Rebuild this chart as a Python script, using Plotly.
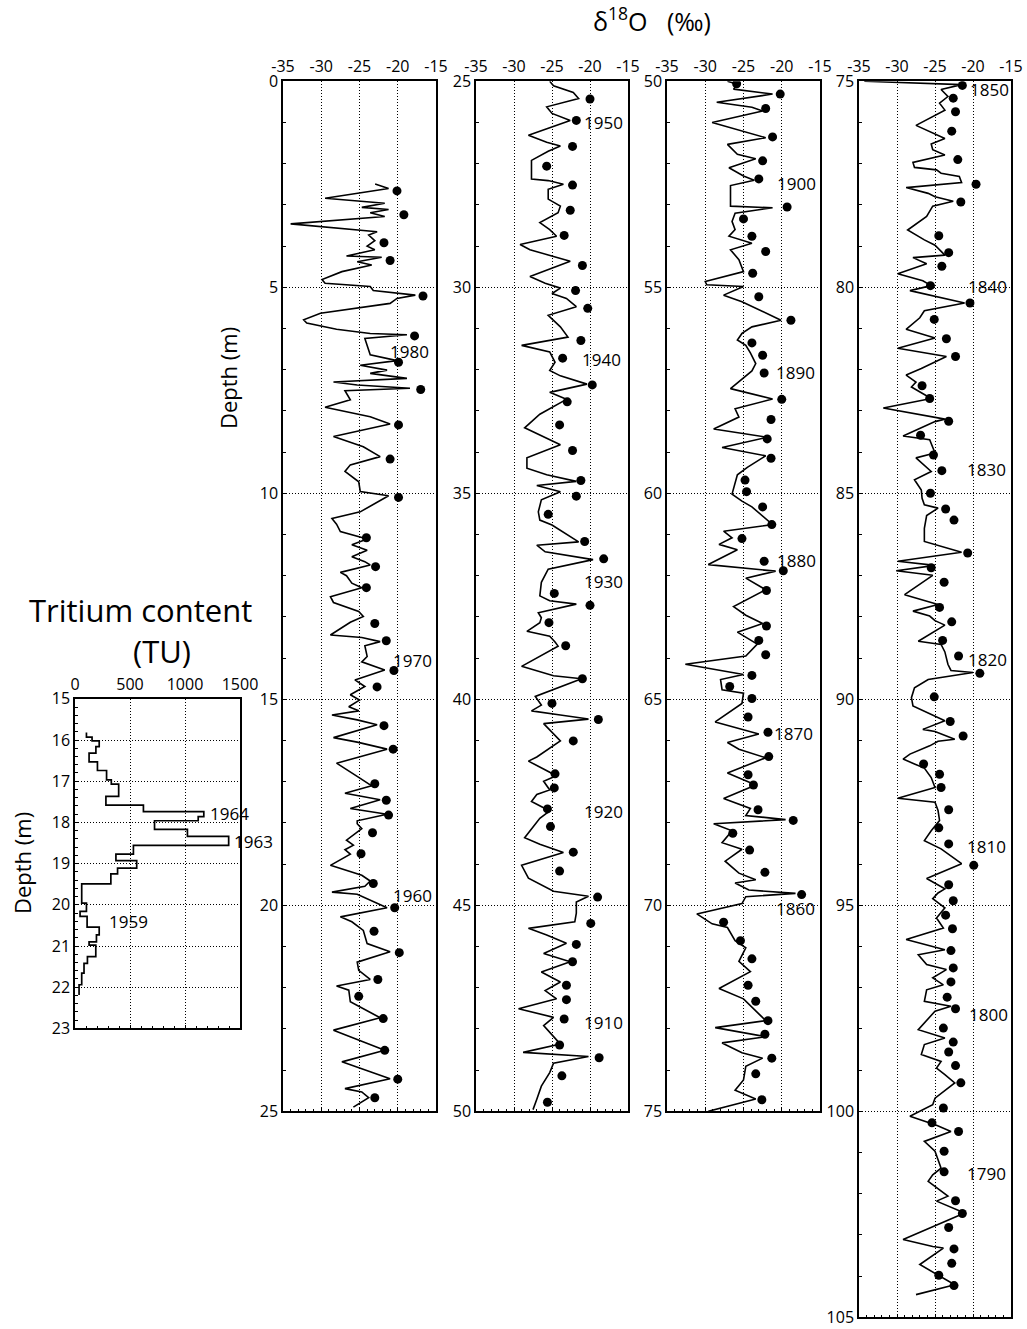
import plotly.graph_objects as go

W, H = 1027, 1329
FONT = "Open Sans"

# ---------------- δ18O profile, 0-25 m ----------------
p1_depth = [2.49, 2.60, 2.84, 2.96, 3.06, 3.11, 3.19, 3.28, 3.46, 3.65,
            3.73, 3.87, 4.00, 4.09, 4.24, 4.27, 4.38, 4.46, 4.62, 4.81,
            4.90, 4.98, 5.08, 5.19, 5.27, 5.39, 5.63, 5.79, 5.87, 6.02,
            6.12, 6.15, 6.24, 6.64, 6.78, 6.89, 7.01, 7.09, 7.21, 7.30,
            7.37, 7.45, 7.51, 7.73, 7.91, 8.14, 8.32, 8.62, 8.87, 9.11,
            9.31, 9.47, 9.72, 9.96, 10.06,
            10.45, 10.61, 10.75, 10.93, 11.01, 11.11, 11.25, 11.38, 11.54, 11.66,
            11.74, 11.92, 12.00, 12.18, 12.29, 12.51, 12.65, 12.87, 12.99, 13.13,
            13.44, 13.50, 13.60, 13.70, 13.96, 14.09, 14.29, 14.53, 14.69, 14.89,
            15.02, 15.18, 15.28, 15.38, 15.50, 15.62, 15.93, 16.04, 16.21, 16.55,
            16.92, 17.10, 17.28, 17.44, 17.65, 17.79, 17.95,
            18.02, 18.14, 18.42, 18.54, 18.65, 18.76, 19.03, 19.27, 19.41, 19.54,
            19.68, 19.73, 20.06, 20.28, 20.40, 20.61, 20.93, 21.13, 21.38, 21.58,
            21.80, 21.96, 22.06, 22.34, 22.73, 23.03, 23.37, 23.52, 23.80, 24.21,
            24.45, 24.53, 24.67, 24.90]
p1_d18o = [-22.96, -21.2, -29.5, -21.7, -24.7, -21.2, -23.6, -21.7, -34.0, -22.7,
           -23.8, -23.0, -24.0, -23.0, -26.7, -22.1, -25.3, -23.4, -27.3, -29.9,
           -29.5, -23.6, -23.2, -17.7, -20.1, -21.0, -30.1, -32.3, -31.9, -28.0,
           -23.6, -18.8, -24.3, -23.6, -20.1, -24.9, -21.4, -23.6, -18.8, -28.4,
           -25.3, -18.4, -26.9, -26.2, -29.5, -23.6, -21.0, -28.4, -24.5, -22.3,
           -26.2, -26.9, -25.1, -24.9, -21.2,
           -24.9, -28.6, -28.0, -27.5, -25.8, -24.0, -26.0, -24.0, -26.0, -24.3,
           -23.6, -27.5, -26.7, -26.0, -24.7, -28.8, -28.4, -25.1, -24.5, -26.2,
           -28.8, -24.7, -22.3, -24.3, -24.0, -24.7, -21.7, -25.6, -24.3, -26.2,
           -25.0, -26.4, -25.1, -28.6, -25.3, -22.7, -28.4, -25.3, -21.4, -28.0,
           -24.9, -23.4, -26.9, -22.3, -26.2, -21.4, -25.3,
           -25.3, -24.7, -26.7, -25.8, -26.9, -26.2, -28.8, -24.7, -23.6, -24.3,
           -28.6, -25.3, -21.4, -27.5, -26.0, -24.5, -24.0, -21.0, -25.3, -25.1,
           -23.6, -28.0, -26.4, -26.2, -22.3, -28.4, -23.6, -21.7, -27.3, -21.0,
           -26.9, -24.7, -23.8, -25.8]
p1_peak_depth = [2.66, 3.24, 3.92, 4.35, 5.21, 6.18, 6.82, 7.48, 8.34, 9.17,
                 10.10, 11.08, 11.78, 12.29, 13.16, 13.58, 14.30, 14.70, 15.64, 16.21,
                 17.05, 17.45, 17.81, 18.24, 18.75, 19.47, 20.06, 20.63, 21.15, 21.80,
                 22.21, 22.75, 23.52, 24.22, 24.67]
p1_peak_d18o = [-20.1, -19.2, -21.8, -21.0, -16.7, -17.8, -19.9, -17.0, -19.9, -21.0,
                -19.9, -24.1, -22.9, -24.1, -23.0, -21.5, -20.5, -22.7, -21.8, -20.6,
                -23.0, -21.5, -21.2, -23.3, -24.8, -23.2, -20.4, -23.1, -19.8, -22.6,
                -25.1, -21.9, -21.7, -20.0, -23.0]

# ---------------- δ18O profile, 25-50 m ----------------
p2_depth = [25.00, 25.11, 25.27, 25.42, 25.62, 25.78, 25.95, 26.31, 26.48, 26.57,
            26.70, 26.92, 27.37, 27.41, 27.50, 27.62, 27.86, 28.03, 28.19, 28.43,
            28.60, 28.76, 28.96, 29.09, 29.25, 29.37, 29.74, 29.90, 30.02, 30.15,
            30.27, 30.47, 30.68, 30.96, 31.21, 31.41, 31.57, 31.82, 32.02, 32.15,
            32.35, 32.55, 32.72, 33.08, 33.41, 33.59, 33.82, 34.14, 34.39, 34.55,
            34.71, 34.81, 34.96, 35.16, 35.45, 35.65, 35.77, 36.18, 36.26, 36.42,
            36.55, 36.61, 36.84, 37.16, 37.49, 37.61,
            37.69, 37.90, 38.02, 38.14,
            38.35, 38.47, 38.61, 38.71, 39.20, 39.43, 39.50, 39.93, 40.14, 40.28,
            40.38, 40.48, 40.59, 40.83, 41.01, 41.40, 41.50, 41.77, 41.87, 41.99,
            42.20, 42.31, 42.48, 42.71, 42.89, 43.36, 43.52, 43.72, 44.03, 44.34,
            44.66, 44.78, 44.92, 45.19, 45.40, 45.56, 45.72, 45.92, 46.17, 46.37,
            46.62, 46.86, 47.07, 47.27, 47.51, 47.72, 47.92, 48.37, 48.57, 48.67,
            48.83, 49.06, 49.39, 49.71, 49.96]
p2_d18o = [-25.3, -24.8, -22.2, -21.5, -25.7, -25.0, -22.6, -28.1, -25.7, -23.9,
           -25.5, -27.7, -27.7, -25.5, -23.5, -25.5, -25.5, -23.9, -24.2, -26.6,
           -25.3, -24.4, -29.2, -27.9, -24.8, -22.6, -27.9, -25.9, -23.9, -25.0,
           -23.1, -21.8, -25.5, -23.9, -22.9, -29.0, -25.3, -24.6, -25.3, -23.9,
           -20.4, -25.3, -23.1, -26.6, -28.6, -26.6, -23.9, -28.3, -28.3, -25.7,
           -21.8, -27.0, -23.9, -26.4, -26.8, -26.6, -25.0, -21.5, -27.0, -25.9,
           -21.8, -19.6, -25.5, -26.4, -26.6, -25.3,
           -21.8, -26.8, -26.4, -26.6,
           -28.3, -25.3, -24.6, -24.2, -29.0, -24.8, -21.1, -27.2, -26.4, -27.7,
           -23.9, -20.2, -26.1, -24.8, -23.9, -27.0, -28.1, -25.3, -24.6, -26.1,
           -25.3, -27.0, -27.7, -25.3, -26.6, -28.6, -26.6, -23.5, -29.0, -28.1,
           -24.8, -20.2, -21.8, -21.8, -22.0, -28.1, -25.7, -23.1, -26.1, -22.6,
           -26.4, -23.9, -25.9, -24.4, -29.4, -24.8, -26.1, -23.9, -28.8, -20.2,
           -24.8, -25.3, -26.4, -27.0, -27.5]
p2_peak_depth = [25.43, 25.95, 26.58, 27.06, 27.52, 28.13, 28.74, 29.47, 30.08, 30.51,
                 31.29, 31.72, 32.37, 32.78, 33.34, 33.96, 34.69, 35.07, 35.51, 36.17,
                 36.59, 37.43, 37.72, 38.14, 38.70, 39.50, 40.10, 40.49, 41.01, 41.81,
                 42.15, 42.66, 43.09, 43.71, 44.17, 44.80, 45.44, 45.95, 46.37, 46.94,
                 47.29, 47.76, 48.39, 48.70, 49.14, 49.78]
p2_peak_d18o = [-20.0, -21.8, -22.3, -25.7, -22.3, -22.6, -23.4, -21.0, -21.9, -20.3,
                -21.2, -23.6, -19.7, -23.0, -24.0, -22.3, -21.2, -21.8, -25.5, -20.7,
                -18.2, -24.7, -20.0, -25.4, -23.2, -21.0, -25.0, -18.9, -22.2, -24.6,
                -24.7, -25.6, -25.2, -22.2, -24.0, -19.0, -19.9, -21.8, -22.3, -23.1,
                -23.1, -23.4, -24.0, -18.8, -23.7, -25.6]

# ---------------- δ18O profile, 50-75 m ----------------
p3_depth = [50.00, 50.07, 50.19, 50.31, 50.51, 50.63, 50.72, 51.00, 51.37, 51.53,
            51.77, 51.88, 52.10, 52.30, 52.40, 52.53, 53.03, 53.07, 53.20, 53.40,
            53.60, 53.76, 53.93, 54.09, 54.33, 54.62, 54.86, 54.94, 54.98, 55.19,
            55.35, 55.80, 55.96, 56.12, 56.28, 56.41, 56.59, 56.85, 57.03, 57.46,
            57.71, 57.95, 58.15, 58.44, 58.64, 58.89, 59.09, 59.37, 59.55, 59.78,
            60.02, 60.19, 60.33, 60.76, 60.92, 61.08, 61.24, 61.37, 61.73, 61.89,
            62.06, 62.34,
            62.75, 62.96, 63.16, 63.37, 63.66, 63.95, 64.15, 64.40,
            64.52, 64.77, 64.85, 65.10, 65.55, 65.84, 66.05, 66.21, 66.42, 66.79,
            66.91, 67.08, 67.41, 67.65, 67.82, 67.92, 68.02, 68.19, 68.48, 68.64,
            68.93, 69.22, 69.38, 69.46, 69.63, 69.71, 69.79, 69.96, 70.21, 70.45,
            70.54, 70.86, 71.03, 71.36, 71.61, 72.02, 72.27, 72.80, 72.97, 73.09,
            73.19, 73.34, 73.58, 73.71, 73.91, 74.24, 74.49, 74.70, 75.00]
p3_d18o = [-27.1, -25.8, -26.3, -21.2, -28.5, -23.9, -22.5, -29.1, -22.1, -27.1,
           -25.8, -23.4, -26.9, -25.0, -23.6, -26.7, -26.7, -21.2, -26.1, -26.5,
           -26.1, -26.9, -23.9, -26.7, -25.6, -25.0, -30.0, -29.8, -25.0, -27.6,
           -25.2, -20.1, -23.9, -25.2, -25.8, -24.7, -24.1, -23.4, -23.9, -26.7,
           -21.2, -26.1, -25.6, -28.9, -21.9, -27.8, -22.1, -24.5, -25.8, -26.1,
           -26.5, -25.2, -23.9, -21.2, -27.6, -26.5, -28.2, -25.8, -29.6, -20.8,
           -24.7, -22.1,
           -26.3, -24.7, -22.5, -25.8, -23.2, -24.7, -32.6, -25.0,
           -28.0, -27.8, -25.0, -25.2, -28.7, -23.0, -27.1, -25.6, -22.1, -27.1,
           -25.6, -23.4, -27.6, -24.1, -24.7, -19.5, -28.9, -26.5, -27.8, -25.2,
           -27.4, -25.6, -23.4, -26.1, -24.3, -18.2, -24.7, -25.2, -31.1, -29.1,
           -27.1, -26.1, -24.7, -25.6, -24.1, -28.2, -25.0, -22.1, -28.7, -25.2,
           -22.1, -27.8, -25.2, -22.5, -24.7, -25.0, -26.1, -23.4, -29.6]
p3_peak_depth = [50.06, 50.31, 50.66, 51.35, 51.93, 52.37, 53.05, 53.34, 53.76, 54.13,
                 54.66, 55.23, 55.80, 56.35, 56.65, 57.08, 57.72, 58.21, 58.68, 59.15,
                 59.68, 59.96, 60.33, 60.76, 61.10, 61.65, 61.88, 62.36,
                 63.22, 63.57, 63.92, 64.42, 64.69, 64.98, 65.43, 65.80, 66.39, 66.83,
                 67.08, 67.68, 67.94, 68.25, 68.66, 69.20, 69.74, 70.41, 70.86, 71.30,
                 71.94, 72.33, 72.80, 73.13, 73.71, 74.09, 74.72]
p3_peak_d18o = [-25.9, -20.2, -22.1, -21.2, -22.5, -23.0, -19.3, -25.0, -23.9, -22.1,
                -23.8, -23.0, -18.8, -23.9, -22.5, -22.3, -20.0, -21.4, -21.9, -21.4,
                -24.8, -24.6, -22.5, -21.3, -25.2, -22.3, -19.8, -22.0,
                -22.0, -23.0, -22.1, -23.9, -26.8, -23.9, -24.4, -21.8, -21.7, -24.4,
                -23.7, -23.1, -18.5, -26.4, -24.2, -22.2, -17.4, -27.6, -25.4, -23.9,
                -24.4, -23.4, -21.8, -22.2, -21.3, -23.4, -22.6]

# ---------------- δ18O profile, 75-105 m ----------------
p4_depth = [75.00, 75.08, 75.20, 75.37, 75.53, 75.70, 76.07, 76.27, 76.39, 76.52,
            76.66, 76.79, 76.97, 77.09, 77.15, 77.23, 77.31, 77.46, 77.58, 77.72,
            77.80, 77.91, 78.03, 78.28, 78.61, 78.85, 78.98, 79.22, 79.28, 79.43,
            79.67, 79.84, 79.96, 80.08, 80.38, 80.57, 80.74, 81.02, 81.23, 81.48,
            81.68, 81.97, 82.13, 82.30, 82.42, 82.70, 82.93, 83.20, 83.26, 83.61,
            83.70, 84.02, 84.14, 84.47, 84.67, 84.92,
            85.12, 85.28, 85.36, 85.54,
            85.85, 86.17, 86.43, 86.65, 86.75, 86.88, 86.99, 87.46, 87.70, 87.86,
            87.98, 88.09, 88.20, 88.59, 88.67, 88.85, 89.15, 89.30, 89.35, 89.52,
            89.72, 89.96, 90.16, 90.52, 90.73, 90.78, 90.97, 91.02, 91.13, 91.33,
            91.45, 91.57, 91.67, 91.90, 92.14, 92.40, 92.50, 92.70, 92.94, 93.19,
            93.43, 93.63, 93.99, 94.35, 94.60,
            94.70, 94.84, 95.06, 95.31, 95.55,
            95.83, 96.08, 96.20, 96.44, 96.56, 96.76, 96.93, 97.05, 97.33, 97.45,
            97.57, 98.02, 98.22, 98.38, 98.62, 98.79, 98.95, 99.11, 99.31, 99.68,
            99.84, 100.12, 100.24, 100.34, 100.49, 100.73, 100.97, 101.38, 101.54, 101.70,
            102.06, 102.18, 102.47, 102.67, 103.11, 103.28, 103.32, 103.72, 104.21, 104.45]
p4_d18o = [-34.3, -21.5, -24.2, -23.3, -24.4, -23.7, -27.5, -25.0, -23.7, -25.5,
           -25.3, -23.7, -27.9, -27.7, -24.8, -24.2, -21.8, -21.5, -28.8, -25.9,
           -25.0, -22.6, -25.3, -26.1, -28.6, -26.4, -25.0, -23.7, -27.9, -26.1,
           -29.9, -26.6, -25.5, -28.3, -21.1, -26.4, -27.0, -28.8, -25.0, -29.9,
           -23.5, -26.8, -28.8, -27.5, -28.1, -25.5, -31.8, -23.7, -25.0, -29.2,
           -25.7, -25.0, -27.5, -25.5, -27.7, -26.8,
           -26.7, -26.4, -24.6, -26.1,
           -26.4, -26.4, -21.5, -29.9, -25.0, -30.1, -25.3, -29.0, -24.6, -27.9,
           -25.7, -25.0, -23.7, -27.2, -24.2, -23.7, -23.3, -22.9, -20.0, -25.9,
           -27.7, -28.1, -27.9, -23.7, -26.6, -25.0, -22.4, -24.6, -25.7, -28.3,
           -29.2, -27.7, -26.4, -25.5, -25.0, -29.9, -25.0, -24.6, -24.4, -25.5,
           -26.4, -24.2, -21.5, -26.1, -23.7,
           -24.6, -25.3, -23.7, -24.8, -23.9,
           -28.8, -23.7, -27.2, -26.1, -23.5, -25.3, -23.9, -26.1, -26.4, -22.9,
           -25.0, -27.2, -23.7, -26.4, -26.8, -24.2, -24.8, -23.7, -22.4, -25.0,
           -25.3, -28.3, -26.4, -24.8, -22.9, -26.4, -25.0, -24.2, -25.3, -25.9,
           -23.3, -24.8, -21.1, -23.7, -29.2, -25.3, -23.9, -27.0, -22.4, -27.5]
p4_peak_depth = [75.10, 75.41, 75.74, 76.21, 76.90, 77.50, 77.93, 78.75, 79.16, 79.49,
                 79.96, 80.38, 80.78, 81.25, 81.68, 82.39, 82.70, 83.25, 83.59, 84.07,
                 84.45, 85.00,
                 85.38, 85.65, 86.45, 86.81, 87.16, 87.77, 88.12, 88.57, 88.95, 89.37,
                 89.94, 90.54, 90.89, 91.57, 91.82, 92.14, 92.68, 93.12, 93.51, 94.03,
                 94.50,
                 94.89, 95.24, 95.57, 96.10, 96.52, 96.86, 97.23, 97.51, 97.98, 98.32,
                 98.56, 98.89, 99.31, 99.92, 100.28, 100.49, 100.97, 101.47, 102.17, 102.48,
                 102.82, 103.34, 103.69, 103.98, 104.23]
p4_peak_d18o = [-21.4, -22.6, -22.3, -22.8, -22.0, -19.6, -21.6, -24.5, -23.2, -24.1,
                -25.6, -20.4, -25.1, -23.5, -22.3, -26.7, -25.7, -23.2, -26.9, -25.2,
                -24.1, -25.6,
                -23.6, -22.5, -20.7, -25.5, -23.8, -24.4, -22.8, -24.0, -21.9, -19.1,
                -25.1, -23.0, -21.3, -26.5, -24.4, -24.2, -23.2, -24.5, -23.2, -19.9,
                -23.2,
                -22.6, -23.6, -22.7, -22.9, -22.6, -22.9, -23.4, -22.3, -23.9, -22.6,
                -23.2, -22.3, -21.6, -23.9, -25.4, -21.9, -23.8, -23.8, -22.3, -21.4,
                -23.2, -22.5, -22.8, -24.5, -22.5]

# ---------------- tritium profile (step bins) ----------------
tritium_depth_edges = [15.82, 15.93, 16.02, 16.16, 16.32, 16.53, 16.74, 16.97, 17.07, 17.37,
                       17.58, 17.74, 17.86, 17.96, 18.17, 18.34, 18.56, 18.77, 18.93, 19.11,
                       19.25, 19.49, 19.96, 20.16, 20.28, 20.54, 20.73, 20.90, 20.98, 21.26,
                       21.42, 21.66, 21.94, 22.19]
tritium_tu = [104, 155, 220, 190, 128, 204, 287, 330, 397, 281,
              622, 1171, 1120, 723, 1022, 1397, 531, 372, 561, 387,
              326, 61, 104, 46, 110, 220, 195, 128, 189, 113,
              82, 61, 37]

# year markers: (text, x, depth)
p1_years = [("1980", -21.3, 6.56), ("1970", -20.9, 14.05), ("1960", -20.9, 19.75)]
p2_years = [("1950", -21.0, 26.0), ("1940", -21.3, 31.75), ("1930", -21.1, 37.15),
            ("1920", -21.0, 42.73), ("1910", -21.0, 47.85)]
p3_years = [("1900", -20.9, 52.48), ("1890", -21.0, 57.07), ("1880", -20.9, 61.62),
            ("1870", -21.3, 65.84), ("1860", -21.0, 70.07)]
p4_years = [("1850", -20.7, 75.2), ("1840", -20.9, 79.98), ("1830", -21.0, 84.43),
            ("1820", -20.9, 89.04), ("1810", -21.0, 93.58), ("1800", -20.8, 97.64),
            ("1790", -21.0, 101.5)]
tritium_years = [("1964", 1209, 17.78), ("1963", 1424, 18.47), ("1959", 294, 20.41)]

d18o_ticks = [-35, -30, -25, -20, -15]
tritium_ticks = [0, 500, 1000, 1500]

# ---------------- layout geometry (pixels) ----------------
def px_dom_x(a, b):
    return [a / W, b / W]


def px_dom_y(top, bottom):
    return [1 - bottom / H, 1 - top / H]


panels = [
    dict(n=1, xr=[0, 1500], yr=[23, 15], xs=(75, 240), ys=(698.8, 1028.4),
         xd=500, xm=100, yd=1, ym=0.2, ticks=tritium_ticks),
    dict(n=2, xr=[-35, -15], yr=[25, 0], xs=(283, 436), ys=(81.3, 1111.3),
         xd=5, xm=1, yd=5, ym=1, ticks=d18o_ticks),
    dict(n=3, xr=[-35, -15], yr=[50, 25], xs=(476, 628), ys=(81.3, 1111.3),
         xd=5, xm=1, yd=5, ym=1, ticks=d18o_ticks),
    dict(n=4, xr=[-35, -15], yr=[75, 50], xs=(667, 820), ys=(81.3, 1111.3),
         xd=5, xm=1, yd=5, ym=1, ticks=d18o_ticks),
    dict(n=5, xr=[-35, -15], yr=[105, 75], xs=(859, 1011), ys=(81.3, 1317.3),
         xd=5, xm=1, yd=5, ym=1, ticks=d18o_ticks),
]

tick_font = dict(family=FONT, size=16, color="black")
GRID_DASH = "1px,2px"
layout = dict(width=W, height=H, margin=dict(l=0, r=0, t=0, b=0, autoexpand=False),
              paper_bgcolor="white", plot_bgcolor="white", showlegend=False)

for p in panels:
    n = p["n"]
    sx = "" if n == 1 else str(n)
    top_id = n + 5
    layout["xaxis" + sx] = dict(
        domain=px_dom_x(*p["xs"]), range=p["xr"], anchor="y" + sx, side="bottom",
        automargin=False, showticklabels=False,
        ticks="inside", ticklen=4, tickcolor="black", dtick=p["xd"], tick0=0,
        minor=dict(dtick=p["xm"], ticks="inside", ticklen=3, tickcolor="black", showgrid=False),
        showline=True, mirror=True, linecolor="black", linewidth=1.5,
        showgrid=True, gridcolor="black", griddash=GRID_DASH, gridwidth=1, zeroline=False,
    )
    layout["xaxis" + str(top_id)] = dict(
        overlaying="x" + sx, anchor="y" + sx, side="top", range=p["xr"], automargin=False,
        tickmode="array", tickvals=p["ticks"], ticktext=[str(t) for t in p["ticks"]],
        ticks="", ticklabelstandoff=5, showline=False, showgrid=False, zeroline=False,
        tickfont=tick_font,
    )
    layout["yaxis" + sx] = dict(
        domain=px_dom_y(*p["ys"]), range=p["yr"], anchor="x" + sx, automargin=False,
        dtick=p["yd"], tick0=0, ticks="inside", ticklen=4, tickcolor="black",
        minor=dict(dtick=p["ym"], ticks="inside", ticklen=3, tickcolor="black", showgrid=False),
        showline=True, mirror=True, linecolor="black", linewidth=1.5,
        showgrid=True, gridcolor="black", griddash=GRID_DASH, gridwidth=1, zeroline=False,
        tickfont=tick_font,
    )

fig = go.Figure(layout=layout)

line_style = dict(color="black", width=1.6)
dot_style = dict(color="black", size=9)

# tritium step profile built from bin edges
tr_x, tr_y = [], []
for i, tu in enumerate(tritium_tu):
    tr_x += [tu, tu]
    tr_y += [tritium_depth_edges[i], tritium_depth_edges[i + 1]]
fig.add_trace(go.Scatter(x=tr_x, y=tr_y, mode="lines", line=dict(color="black", width=1.7),
                         xaxis="x", yaxis="y", hoverinfo="skip"))
fig.add_trace(go.Scatter(x=[None], y=[None], mode="lines", xaxis="x6", yaxis="y",
                         hoverinfo="skip"))

series = [
    (2, p1_depth, p1_d18o, p1_peak_depth, p1_peak_d18o, p1_years),
    (3, p2_depth, p2_d18o, p2_peak_depth, p2_peak_d18o, p2_years),
    (4, p3_depth, p3_d18o, p3_peak_depth, p3_peak_d18o, p3_years),
    (5, p4_depth, p4_d18o, p4_peak_depth, p4_peak_d18o, p4_years),
]

year_font = dict(family=FONT, size=17, color="black")
annotations = []
for n, dep, val, pdep, pval, years in series:
    fig.add_trace(go.Scatter(x=val, y=dep, mode="lines", line=line_style,
                             xaxis="x%d" % n, yaxis="y%d" % n, hoverinfo="skip"))
    fig.add_trace(go.Scatter(x=pval, y=pdep, mode="markers", marker=dot_style,
                             xaxis="x%d" % (n + 5), yaxis="y%d" % n, hoverinfo="skip"))
    for txt, x, y in years:
        annotations.append(dict(text=txt, x=x, y=y, xref="x%d" % n, yref="y%d" % n,
                                xanchor="left", yanchor="middle", showarrow=False,
                                font=year_font))

for txt, x, y in tritium_years:
    annotations.append(dict(text=txt, x=x, y=y, xref="x", yref="y",
                            xanchor="left", yanchor="middle", showarrow=False,
                            font=year_font))

# titles
annotations += [
    dict(text="δ<sup>18</sup>O   (‰)", x=652 / W, y=1 - 20 / H, xref="paper", yref="paper",
         xanchor="center", yanchor="middle", showarrow=False,
         font=dict(family=FONT, size=25, color="black")),
    dict(text="Tritium content", x=140 / W, y=1 - 610 / H, xref="paper", yref="paper",
         xanchor="center", yanchor="middle", showarrow=False,
         font=dict(family=FONT, size=31, color="black")),
    dict(text="(TU)", x=162 / W, y=1 - 651 / H, xref="paper", yref="paper",
         xanchor="center", yanchor="middle", showarrow=False,
         font=dict(family=FONT, size=31, color="black")),
    dict(text="Depth (m)", x=228 / W, y=1 - 378 / H, xref="paper", yref="paper",
         xanchor="center", yanchor="middle", showarrow=False, textangle=-90,
         font=dict(family=FONT, size=22, color="black")),
    dict(text="Depth (m)", x=22 / W, y=1 - 863 / H, xref="paper", yref="paper",
         xanchor="center", yanchor="middle", showarrow=False, textangle=-90,
         font=dict(family=FONT, size=22, color="black")),
]
fig.update_layout(annotations=annotations)

fig.write_html("out.html")
